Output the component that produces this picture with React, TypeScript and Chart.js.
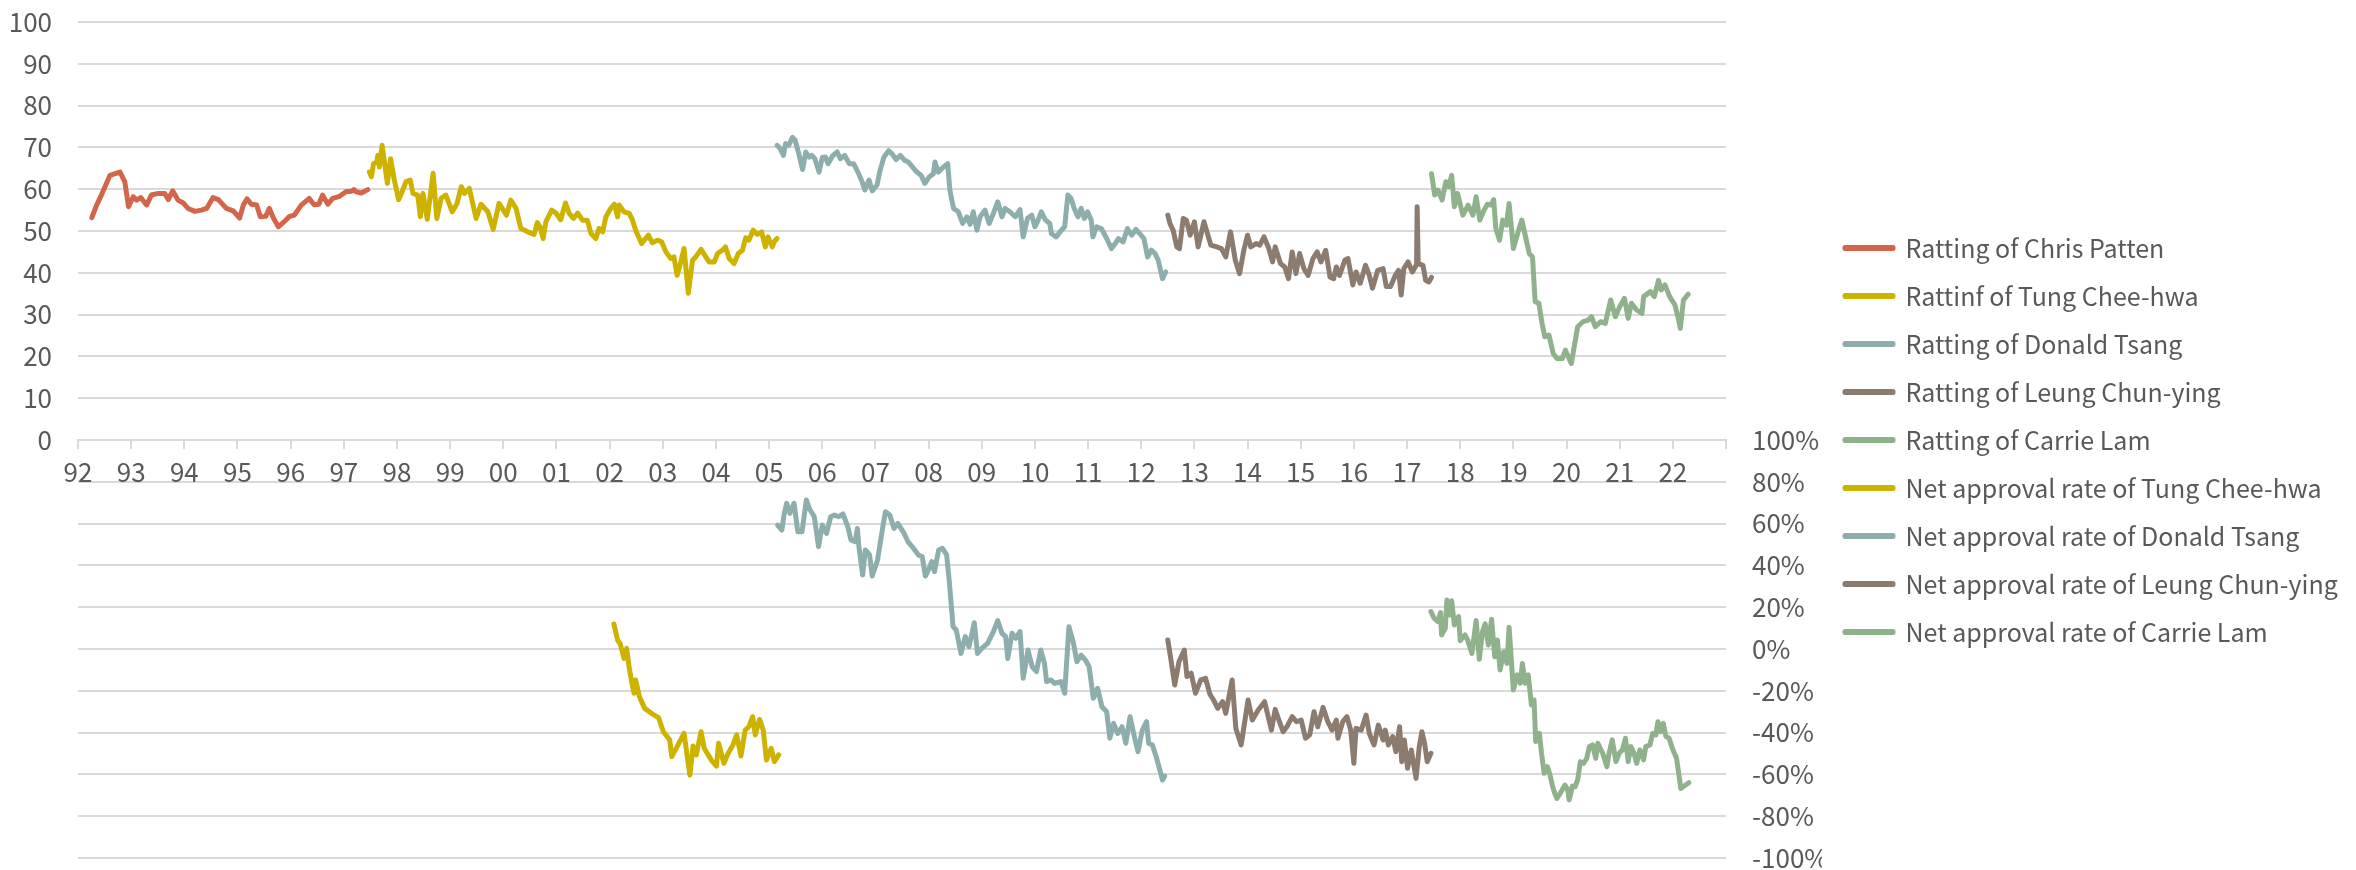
import React, { useEffect, useRef } from 'react';
import { Chart, registerables } from 'chart.js';

Chart.register(...registerables);

// ---------- tick labels ----------
const yearLabels = ['92','93','94','95','96','97','98','99','00','01','02','03','04','05','06','07','08','09','10','11','12','13','14','15','16','17','18','19','20','21','22'];
const ratingTicks = ['0','10','20','30','40','50','60','70','80','90','100'];
const netTicks = ['-100%','-80%','-60%','-40%','-20%','0%','20%','40%','60%','80%','100%'];

// ---------- series: [year, value] ----------
const pattenRating: [number, number][] = [
  [1992.26,53.2],[1992.35,56.2],[1992.44,58.6],[1992.60,63.3],[1992.70,63.7],[1992.79,64.1],[1992.88,61.8],[1992.95,55.8],
  [1993.04,58.2],[1993.10,57.4],[1993.18,58.0],[1993.29,56.2],[1993.38,58.6],[1993.51,59.0],[1993.63,59.0],[1993.70,57.5],
  [1993.78,59.6],[1993.88,57.4],[1993.98,56.7],[1994.07,55.4],[1994.20,54.7],[1994.32,55.0],[1994.42,55.4],[1994.54,58.0],
  [1994.64,57.5],[1994.79,55.4],[1994.92,54.8],[1995.04,53.1],[1995.11,56.2],[1995.18,57.7],[1995.26,56.4],[1995.36,56.2],
  [1995.43,53.4],[1995.53,53.5],[1995.60,55.4],[1995.68,53.0],[1995.77,51.0],[1995.89,52.4],[1995.98,53.5],[1996.07,53.8],
  [1996.20,56.2],[1996.35,57.8],[1996.44,56.3],[1996.53,56.4],[1996.60,58.6],[1996.70,56.4],[1996.79,57.8],[1996.92,58.3],
  [1997.04,59.4],[1997.14,59.5],[1997.19,59.9],[1997.23,59.4],[1997.33,59.1],[1997.45,59.9]
];
const tungRating: [number, number][] = [
  [1997.48,64.1],[1997.52,63.0],[1997.56,66.1],[1997.62,66.5],[1997.64,68.1],[1997.67,65.3],[1997.72,70.5],[1997.76,66.9],
  [1997.82,61.4],[1997.88,67.3],[1997.95,62.2],[1998.03,57.5],[1998.11,59.8],[1998.17,61.8],[1998.25,62.2],[1998.30,59.0],
  [1998.39,58.6],[1998.44,53.4],[1998.49,59.0],[1998.57,52.8],[1998.68,63.8],[1998.75,53.0],[1998.83,57.8],[1998.92,58.6],
  [1999.04,54.6],[1999.13,56.6],[1999.21,60.6],[1999.27,59.0],[1999.36,60.2],[1999.49,53.0],[1999.58,56.4],[1999.71,54.6],
  [1999.81,50.4],[1999.92,56.6],[2000.06,53.8],[2000.14,57.4],[2000.24,55.4],[2000.33,50.6],[2000.46,49.8],[2000.58,49.2],
  [2000.64,52.0],[2000.69,51.0],[2000.75,48.2],[2000.80,52.2],[2000.91,55.0],[2000.99,54.3],[2001.08,52.7],[2001.17,56.7],
  [2001.24,54.2],[2001.32,53.0],[2001.40,54.3],[2001.49,52.6],[2001.58,52.6],[2001.65,49.4],[2001.74,48.2],[2001.80,50.6],
  [2001.87,49.8],[2001.93,53.4],[2002.02,55.4],[2002.09,56.4],[2002.15,53.4],[2002.18,56.2],[2002.27,54.6],[2002.37,54.2],
  [2002.43,52.6],[2002.49,50.2],[2002.60,47.0],[2002.73,49.0],[2002.80,47.2],[2002.90,47.8],[2002.98,47.4],[2003.06,45.0],
  [2003.15,43.4],[2003.21,43.8],[2003.27,39.4],[2003.34,42.6],[2003.40,45.8],[2003.48,35.1],[2003.56,43.0],[2003.62,43.8],
  [2003.72,45.6],[2003.81,43.8],[2003.87,42.6],[2003.97,42.6],[2004.03,44.6],[2004.12,45.4],[2004.18,46.2],[2004.25,43.4],
  [2004.34,42.2],[2004.42,44.6],[2004.50,45.4],[2004.56,48.4],[2004.62,47.8],[2004.70,50.2],[2004.78,49.2],[2004.86,49.8],
  [2004.93,46.2],[2004.98,48.6],[2005.06,46.2],[2005.10,47.5],[2005.15,48.2]
];
const tsangRating: [number, number][] = [
  [2005.15,70.5],[2005.21,69.7],[2005.27,68.1],[2005.31,70.9],[2005.37,70.5],[2005.44,72.4],[2005.49,71.7],[2005.55,68.9],
  [2005.63,64.7],[2005.69,68.9],[2005.75,67.7],[2005.80,68.1],[2005.86,67.3],[2005.94,64.1],[2006.00,67.6],[2006.06,67.7],
  [2006.11,66.1],[2006.19,67.9],[2006.28,68.9],[2006.34,67.3],[2006.42,68.1],[2006.51,66.1],[2006.59,66.1],[2006.67,64.1],
  [2006.75,61.8],[2006.80,59.8],[2006.88,62.2],[2006.94,59.6],[2007.03,61.0],[2007.08,64.1],[2007.16,67.7],[2007.25,69.2],
  [2007.31,68.5],[2007.39,67.1],[2007.47,68.1],[2007.55,66.9],[2007.62,66.5],[2007.70,65.3],[2007.78,64.1],[2007.86,63.3],
  [2007.93,61.4],[2008.01,62.9],[2008.09,63.7],[2008.12,66.5],[2008.18,64.1],[2008.28,65.3],[2008.36,66.1],[2008.40,59.8],
  [2008.47,55.4],[2008.56,54.6],[2008.64,51.8],[2008.72,53.4],[2008.78,51.6],[2008.84,54.6],[2008.91,50.2],[2008.97,53.4],
  [2009.06,55.0],[2009.14,51.8],[2009.22,54.2],[2009.30,57.0],[2009.38,53.4],[2009.44,55.4],[2009.53,54.6],[2009.63,53.4],
  [2009.72,55.1],[2009.78,48.6],[2009.86,53.0],[2009.94,53.8],[2010.00,51.0],[2010.06,52.6],[2010.12,54.6],[2010.20,52.6],
  [2010.28,51.8],[2010.31,49.4],[2010.40,48.6],[2010.50,50.2],[2010.56,51.0],[2010.62,58.6],[2010.68,57.8],[2010.74,55.4],
  [2010.81,53.4],[2010.87,55.4],[2010.93,53.0],[2010.99,54.6],[2011.06,52.6],[2011.09,48.6],[2011.16,51.0],[2011.25,50.6],
  [2011.35,48.2],[2011.44,45.8],[2011.51,47.0],[2011.57,48.2],[2011.66,47.4],[2011.74,50.6],[2011.82,49.0],[2011.90,50.4],
  [2011.97,49.4],[2012.05,48.2],[2012.12,43.8],[2012.19,45.4],[2012.26,44.6],[2012.32,43.0],[2012.40,38.6],[2012.46,40.2]
];
const leungRating: [number, number][] = [
  [2012.50,53.8],[2012.54,51.8],[2012.60,50.2],[2012.67,46.2],[2012.72,45.8],[2012.79,53.0],[2012.85,52.6],[2012.92,49.0],
  [2013.00,52.2],[2013.07,46.2],[2013.18,52.2],[2013.31,46.6],[2013.42,46.2],[2013.51,45.8],[2013.59,43.8],[2013.68,49.8],
  [2013.77,43.0],[2013.85,39.8],[2013.93,45.4],[2014.00,49.0],[2014.06,46.2],[2014.16,47.0],[2014.23,46.6],[2014.31,48.6],
  [2014.40,45.8],[2014.47,42.6],[2014.52,46.2],[2014.62,42.2],[2014.70,41.4],[2014.77,38.6],[2014.84,45.0],[2014.91,39.8],
  [2014.98,44.6],[2015.06,41.0],[2015.14,39.4],[2015.23,43.4],[2015.31,45.0],[2015.38,42.6],[2015.47,45.4],[2015.55,39.0],
  [2015.62,38.6],[2015.67,41.4],[2015.73,39.4],[2015.83,43.0],[2015.89,43.4],[2015.98,37.1],[2016.04,40.2],[2016.12,37.5],
  [2016.22,41.8],[2016.29,39.4],[2016.35,36.3],[2016.45,40.6],[2016.55,41.0],[2016.61,36.7],[2016.69,36.7],[2016.78,39.4],
  [2016.84,40.6],[2016.89,34.7],[2016.94,41.0],[2017.02,42.6],[2017.10,40.2],[2017.18,42.0],[2017.19,55.8],[2017.21,42.2],
  [2017.30,41.8],[2017.35,38.2],[2017.41,37.8],[2017.46,38.9]
];
const lamRating: [number, number][] = [
  [2017.46,63.7],[2017.52,58.6],[2017.58,59.8],[2017.66,57.4],[2017.73,61.8],[2017.78,60.6],[2017.84,63.3],[2017.89,55.8],
  [2017.95,59.0],[2018.05,53.8],[2018.15,56.2],[2018.24,53.8],[2018.30,58.2],[2018.37,52.6],[2018.45,55.0],[2018.51,56.4],
  [2018.58,56.2],[2018.63,57.5],[2018.67,50.6],[2018.74,47.8],[2018.80,52.6],[2018.87,51.4],[2018.92,56.6],[2019.00,45.8],
  [2019.09,49.8],[2019.16,52.6],[2019.23,48.6],[2019.30,44.6],[2019.36,43.8],[2019.41,33.1],[2019.48,32.7],[2019.54,27.9],
  [2019.59,24.7],[2019.67,25.1],[2019.75,20.7],[2019.82,19.5],[2019.92,19.5],[2019.98,21.5],[2020.09,18.3],[2020.15,22.7],
  [2020.21,27.1],[2020.31,28.3],[2020.41,28.7],[2020.47,29.5],[2020.54,27.1],[2020.64,28.3],[2020.73,27.9],[2020.83,33.5],
  [2020.92,29.5],[2021.00,31.9],[2021.09,33.9],[2021.16,29.1],[2021.22,32.7],[2021.32,31.1],[2021.42,30.3],[2021.45,34.3],
  [2021.58,35.5],[2021.65,34.3],[2021.73,38.2],[2021.78,35.9],[2021.85,37.1],[2021.94,34.3],[2022.04,32.3],[2022.11,28.7],
  [2022.14,26.7],[2022.20,33.5],[2022.29,34.9]
];
const tungNet: [number, number][] = [
  [2002.08,12.0],[2002.15,4.3],[2002.20,2.4],[2002.27,-4.5],[2002.32,0.3],[2002.37,-9.2],[2002.42,-16.4],[2002.46,-21.2],
  [2002.49,-14.8],[2002.56,-22.8],[2002.66,-28.4],[2002.80,-31.0],[2002.92,-32.8],[2003.01,-39.6],[2003.13,-43.5],[2003.17,-51.5],
  [2003.40,-40.4],[2003.51,-60.3],[2003.57,-46.4],[2003.63,-50.7],[2003.72,-39.6],[2003.78,-47.5],[2003.92,-53.4],[2004.01,-56.0],
  [2004.05,-45.1],[2004.15,-54.7],[2004.23,-49.9],[2004.32,-45.9],[2004.39,-41.1],[2004.47,-51.2],[2004.55,-38.8],[2004.62,-37.2],
  [2004.69,-32.4],[2004.74,-41.1],[2004.82,-33.7],[2004.89,-38.8],[2004.95,-53.1],[2005.04,-47.5],[2005.10,-53.9],[2005.18,-50.7]
];
const tsangNet: [number, number][] = [
  [2005.16,59.3],[2005.24,56.9],[2005.28,64.1],[2005.33,69.7],[2005.39,64.9],[2005.47,69.7],[2005.54,56.1],[2005.62,56.1],
  [2005.70,71.3],[2005.77,66.5],[2005.85,63.3],[2005.93,49.0],[2006.00,59.3],[2006.08,55.3],[2006.16,63.3],[2006.23,64.1],
  [2006.31,63.3],[2006.39,64.6],[2006.48,58.5],[2006.54,52.2],[2006.62,51.4],[2006.66,57.7],[2006.69,49.0],[2006.76,35.4],
  [2006.81,47.4],[2006.89,45.0],[2006.94,34.9],[2007.04,42.6],[2007.15,60.1],[2007.19,65.7],[2007.27,64.1],[2007.35,57.7],
  [2007.42,60.1],[2007.54,55.3],[2007.61,51.4],[2007.69,49.0],[2007.81,45.0],[2007.88,44.2],[2007.94,34.9],[2008.01,38.6],
  [2008.06,41.8],[2008.11,37.0],[2008.19,47.4],[2008.26,48.2],[2008.34,45.0],[2008.39,32.2],[2008.46,10.7],[2008.52,9.1],
  [2008.61,-2.1],[2008.69,5.9],[2008.76,1.1],[2008.86,12.6],[2008.92,-2.1],[2009.00,0.3],[2009.11,2.7],[2009.22,8.3],
  [2009.30,13.6],[2009.38,7.5],[2009.45,5.9],[2009.49,-4.5],[2009.57,7.5],[2009.64,5.1],[2009.72,8.3],[2009.78,-14.0],
  [2009.87,-0.5],[2009.95,-8.5],[2010.03,-10.8],[2010.11,-0.5],[2010.18,-6.9],[2010.22,-15.6],[2010.30,-14.8],[2010.37,-16.4],
  [2010.49,-15.6],[2010.56,-21.2],[2010.64,10.7],[2010.72,3.5],[2010.79,-6.1],[2010.87,-2.9],[2010.95,-5.3],[2011.02,-8.5],
  [2011.10,-23.6],[2011.18,-18.8],[2011.26,-27.6],[2011.35,-30.0],[2011.41,-42.7],[2011.48,-35.6],[2011.56,-40.4],[2011.64,-37.2],
  [2011.71,-45.1],[2011.79,-32.4],[2011.87,-41.9],[2011.94,-49.1],[2012.02,-38.8],[2012.10,-34.8],[2012.14,-45.1],[2012.21,-45.9],
  [2012.29,-52.3],[2012.35,-57.9],[2012.40,-62.7],[2012.44,-60.8]
];
const leungNet: [number, number][] = [
  [2012.50,4.3],[2012.56,-5.3],[2012.63,-17.2],[2012.71,-6.1],[2012.81,-0.5],[2012.86,-13.2],[2012.94,-11.6],[2013.02,-21.2],
  [2013.12,-14.8],[2013.21,-14.0],[2013.29,-21.5],[2013.36,-24.4],[2013.44,-28.4],[2013.53,-25.2],[2013.59,-30.8],[2013.71,-14.8],
  [2013.78,-38.0],[2013.88,-45.9],[2014.01,-24.4],[2014.09,-34.0],[2014.20,-29.2],[2014.32,-25.2],[2014.45,-38.8],[2014.52,-28.9],
  [2014.60,-34.8],[2014.67,-39.6],[2014.75,-36.8],[2014.84,-32.4],[2014.92,-34.8],[2015.01,-34.0],[2015.09,-42.7],[2015.17,-41.1],
  [2015.25,-30.0],[2015.32,-37.2],[2015.42,-27.9],[2015.51,-34.8],[2015.59,-38.8],[2015.67,-34.0],[2015.70,-42.7],[2015.79,-34.8],
  [2015.87,-32.4],[2015.94,-38.8],[2016.00,-54.7],[2016.04,-38.0],[2016.14,-38.8],[2016.23,-31.6],[2016.29,-40.4],[2016.38,-45.9],
  [2016.46,-36.4],[2016.55,-43.5],[2016.59,-38.8],[2016.65,-45.9],[2016.73,-41.9],[2016.79,-49.1],[2016.86,-37.2],[2016.90,-53.9],
  [2016.95,-43.5],[2017.01,-57.1],[2017.08,-48.3],[2017.17,-61.9],[2017.23,-46.7],[2017.28,-39.6],[2017.33,-45.1],[2017.38,-53.9],
  [2017.45,-49.9]
];
const lamNet: [number, number][] = [
  [2017.45,17.9],[2017.51,14.7],[2017.58,13.1],[2017.63,17.4],[2017.65,6.7],[2017.72,9.9],[2017.75,23.4],[2017.80,16.3],
  [2017.84,23.1],[2017.89,11.5],[2017.97,15.5],[2018.00,4.0],[2018.09,6.7],[2018.14,4.3],[2018.22,-2.1],[2018.30,13.6],
  [2018.36,-4.9],[2018.42,8.3],[2018.47,12.0],[2018.53,1.9],[2018.59,14.2],[2018.65,-3.7],[2018.70,4.3],[2018.75,-10.0],
  [2018.82,-1.3],[2018.88,-6.9],[2018.92,10.4],[2019.00,-19.6],[2019.07,-12.4],[2019.13,-16.4],[2019.17,-6.9],[2019.22,-16.4],
  [2019.28,-12.4],[2019.34,-26.8],[2019.39,-24.4],[2019.42,-44.3],[2019.49,-40.4],[2019.53,-49.9],[2019.58,-59.5],[2019.64,-56.3],
  [2019.69,-60.3],[2019.74,-65.9],[2019.78,-69.1],[2019.82,-71.5],[2019.88,-69.1],[2019.97,-65.1],[2020.02,-67.1],[2020.05,-72.2],
  [2020.08,-69.1],[2020.11,-65.6],[2020.16,-65.9],[2020.21,-62.7],[2020.26,-53.9],[2020.32,-54.7],[2020.38,-52.3],[2020.43,-46.7],
  [2020.49,-45.9],[2020.55,-52.3],[2020.59,-45.1],[2020.68,-49.9],[2020.76,-56.3],[2020.80,-49.9],[2020.86,-43.5],[2020.93,-53.9],
  [2020.99,-49.9],[2021.05,-48.3],[2021.11,-42.7],[2021.16,-53.9],[2021.21,-46.7],[2021.27,-49.9],[2021.32,-54.7],[2021.38,-48.3],
  [2021.45,-53.1],[2021.49,-46.7],[2021.57,-45.9],[2021.62,-40.4],[2021.68,-41.1],[2021.72,-34.8],[2021.77,-39.6],[2021.82,-35.6],
  [2021.87,-41.9],[2021.93,-42.7],[2021.99,-47.5],[2022.07,-52.3],[2022.15,-66.7],[2022.24,-65.1],[2022.30,-64.0]
];

const seriesLabels = [
  'Ratting of Chris Patten',
  'Rattinf of Tung Chee-hwa',
  'Ratting of Donald Tsang',
  'Ratting of Leung Chun-ying',
  'Ratting of Carrie Lam',
  'Net approval rate of Tung Chee-hwa',
  'Net approval rate of Donald Tsang',
  'Net approval rate of Leung Chun-ying',
  'Net approval rate of Carrie Lam',
];

const C_PATTEN = '#D3664A';
const C_TUNG = '#CDB300';
const C_TSANG = '#8DAEAD';
const C_LEUNG = '#8C7B6F';
const C_LAM = '#8FB18C';

const FONT = '"Noto Sans CJK SC", "Noto Sans", sans-serif';
const TEXT = '#595959';
const GRID = '#D9D9D9';
const W = 2356;
const H = 870;
const FS = 26;
const LEG_FS = 25;
const LEG_PAD = 23;
const LEG_BOX = 48;
const LEGEND_LEFT = 1822;
const PLOT_LEFT = 78;
const PLOT_RIGHT = 1726;

export default function App() {
  const ref = useRef<HTMLCanvasElement>(null);

  useEffect(() => {
    document.body.style.margin = '0';
    const canvas = ref.current;
    if (!canvas) return;

    // measure the widest legend entry so the legend block starts at LEGEND_LEFT
    const mctx = document.createElement('canvas').getContext('2d')!;
    mctx.font = `${LEG_FS}px ${FONT}`;
    const maxText = Math.max(...seriesLabels.map((s) => mctx.measureText(s).width));
    const legendNatural = LEG_PAD + LEG_BOX + LEG_FS / 2 + maxText + 10;
    const padRight = Math.max(0, W - LEGEND_LEFT - legendNatural);
    const legendMaxWidth = W - LEGEND_LEFT;

    const pts = (arr: [number, number][]) => arr.map(([x, y]) => ({ x, y }));
    const ds = (i: number, data: [number, number][], color: string, axis: string) => ({
      label: seriesLabels[i],
      data: pts(data),
      borderColor: color,
      backgroundColor: color,
      borderWidth: 5,
      pointRadius: 0,
      pointHoverRadius: 0,
      tension: 0,
      borderJoinStyle: 'round' as const,
      borderCapStyle: 'round' as const,
      yAxisID: axis,
    });

    const chart = new Chart(canvas, {
      type: 'line',
      data: {
        datasets: [
          ds(0, pattenRating, C_PATTEN, 'y'),
          ds(1, tungRating, C_TUNG, 'y'),
          ds(2, tsangRating, C_TSANG, 'y'),
          ds(3, leungRating, C_LEUNG, 'y'),
          ds(4, lamRating, C_LAM, 'y'),
          ds(5, tungNet, C_TUNG, 'y2'),
          ds(6, tsangNet, C_TSANG, 'y2'),
          ds(7, leungNet, C_LEUNG, 'y2'),
          ds(8, lamNet, C_LAM, 'y2'),
        ],
      },
      options: {
        animation: false,
        responsive: false,
        devicePixelRatio: 1,
        events: [],
        layout: { padding: { top: 22, bottom: 12, left: 0, right: padRight } },
        plugins: {
          tooltip: { enabled: false },
          legend: {
            position: 'right',
            align: 'center',
            maxWidth: legendMaxWidth,
            labels: {
              boxWidth: LEG_BOX,
              boxHeight: 1,
              padding: LEG_PAD,
              color: TEXT,
              font: { family: FONT, size: LEG_FS },
            },
          },
        },
        scales: {
          x: {
            type: 'linear',
            min: 1992,
            max: 2023,
            position: { y: 0 } as any,
            ticks: {
              stepSize: 1,
              autoSkip: false,
              maxRotation: 0,
              minRotation: 0,
              padding: 9,
              color: TEXT,
              font: { family: FONT, size: FS },
              callback: (_v: any, i: number) => yearLabels[i] ?? '',
            },
            grid: {
              drawOnChartArea: false,
              drawTicks: true,
              tickLength: 8,
              color: GRID,
              lineWidth: 2,
            },
            border: { display: true, color: GRID, width: 2 },
            afterFit: (s: any) => {
              s.height = 0;
              s.paddingLeft = 0;
              s.paddingRight = 0;
            },
          },
          y: {
            type: 'linear',
            position: 'left',
            min: -100,
            max: 100,
            ticks: {
              stepSize: 10,
              padding: 26,
              color: TEXT,
              font: { family: FONT, size: FS },
              callback: (_v: any, i: number) => (i >= 10 ? ratingTicks[i - 10] : ''),
            },
            grid: { color: GRID, lineWidth: 2, drawTicks: false },
            border: { display: false },
            afterFit: (s: any) => {
              s.width = PLOT_LEFT;
              s.paddingTop = 0;
              s.paddingBottom = 0;
            },
          },
          y2: {
            type: 'linear',
            position: 'right',
            min: -100,
            max: 300,
            ticks: {
              stepSize: 20,
              padding: 26,
              color: TEXT,
              font: { family: FONT, size: FS },
              callback: (_v: any, i: number) => (i <= 10 ? netTicks[i] : ''),
            },
            grid: { display: false, drawTicks: false },
            border: { display: false },
            afterFit: (s: any) => {
              const leg = s.chart.legend;
              const legLeft = leg && leg.width ? W - padRight - leg.width : LEGEND_LEFT;
              s.width = Math.max(0, legLeft - PLOT_RIGHT);
              s.paddingTop = 0;
              s.paddingBottom = 0;
            },
          },
        },
      },
    } as any);

    return () => chart.destroy();
  }, []);

  return (
    <div style={{ width: W, height: H, overflow: 'hidden', background: '#fff' }}>
      <canvas ref={ref} width={W} height={H} style={{ display: 'block', width: W, height: H }} />
    </div>
  );
}
